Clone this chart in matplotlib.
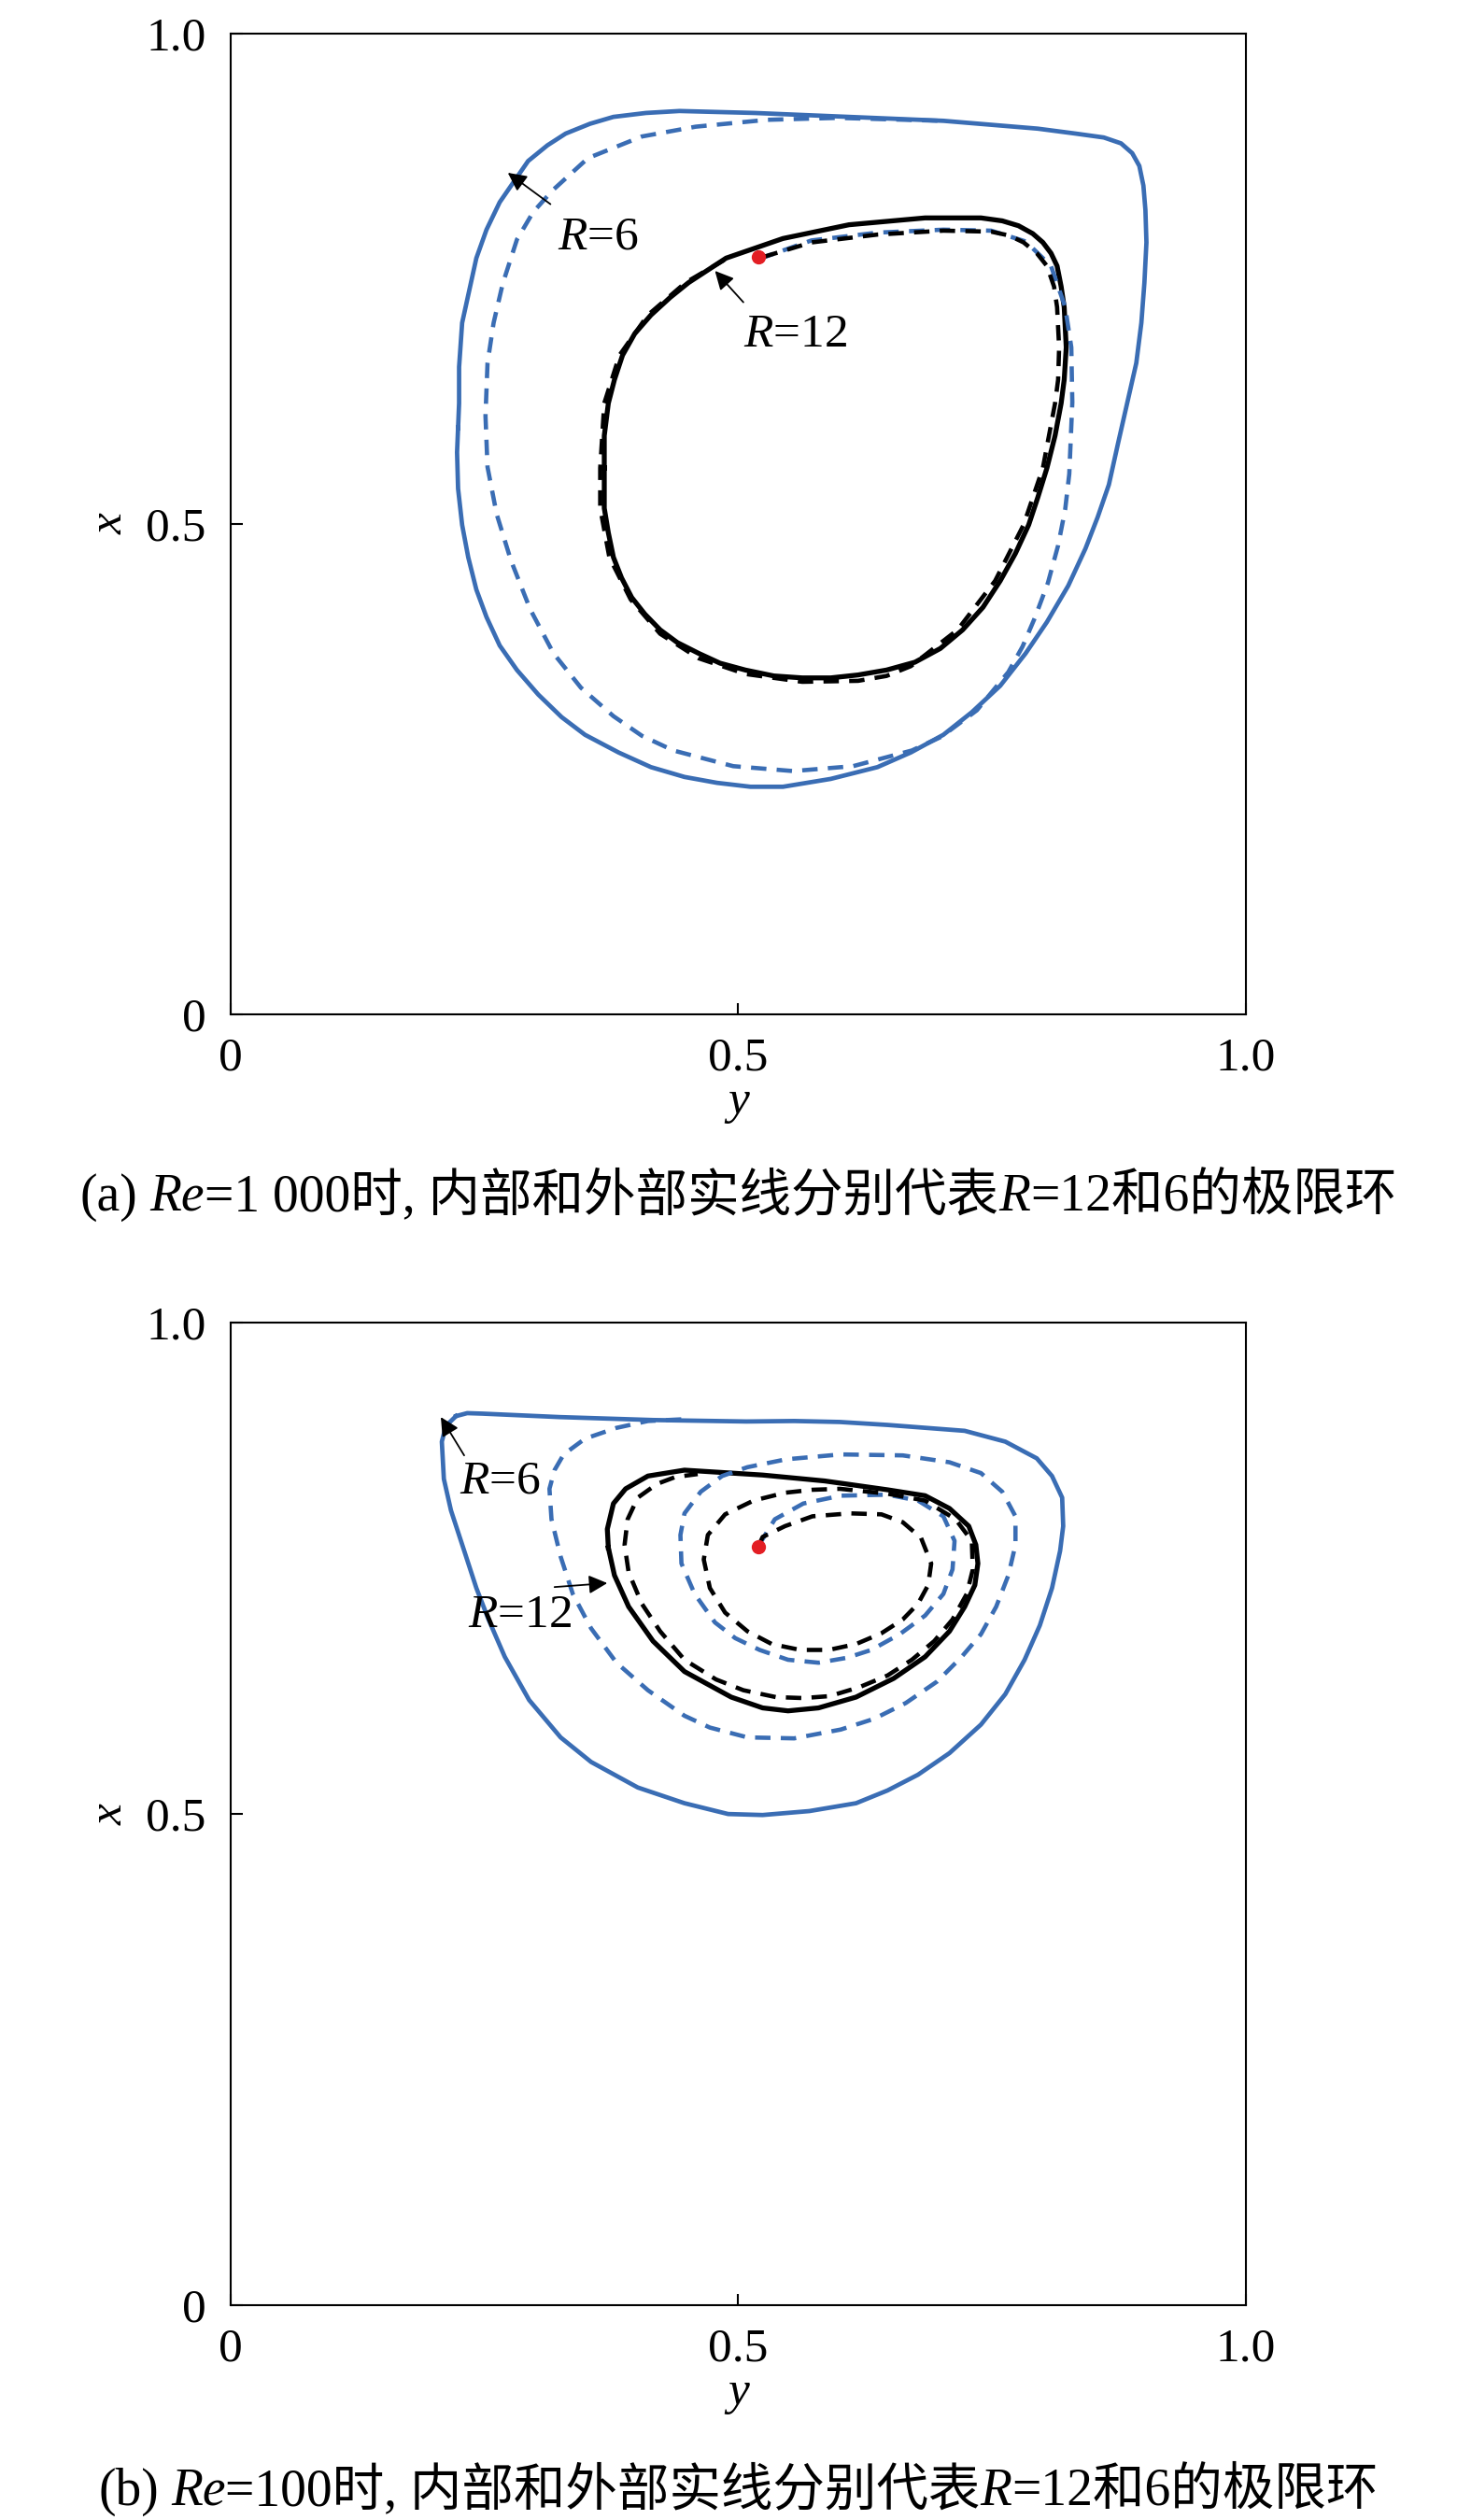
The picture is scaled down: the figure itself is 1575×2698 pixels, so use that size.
import numpy as np
import matplotlib.pyplot as plt

plt.rcParams['font.family'] = ['Liberation Serif', 'Noto Sans CJK SC']
plt.rcParams['mathtext.fontset'] = 'custom'
plt.rcParams['mathtext.it'] = 'Liberation Serif:italic'
plt.rcParams['mathtext.rm'] = 'Liberation Serif'

BLUE = '#3a6db4'
RED = '#e31e24'
FS = 37
CAP_FS = 40
DASH = (0, (3.6, 2.4))

# ---- (a) Re=1000 ----
# horizontal axis is y, vertical axis is x
blue_solid_a_y = [0.224, 0.225, 0.225, 0.228, 0.235, 0.242, 0.252, 0.265, 0.279, 0.293,
                  0.312, 0.330, 0.354, 0.377, 0.409, 0.442, 0.516, 0.609, 0.702, 0.795,
                  0.832, 0.860, 0.877, 0.888, 0.895, 0.899, 0.901, 0.902, 0.900, 0.897,
                  0.892, 0.883, 0.874, 0.865, 0.854, 0.842, 0.825, 0.804, 0.783, 0.758,
                  0.730, 0.702, 0.670, 0.637, 0.591, 0.544, 0.512, 0.479, 0.447, 0.414,
                  0.382, 0.349, 0.326, 0.303, 0.282, 0.265, 0.252, 0.242, 0.234, 0.228,
                  0.224, 0.223]
blue_solid_a_x = [0.598, 0.623, 0.660, 0.705, 0.738, 0.771, 0.800, 0.828, 0.849, 0.870,
                  0.886, 0.898, 0.908, 0.915, 0.919, 0.921, 0.919, 0.915, 0.911, 0.903,
                  0.898, 0.894, 0.888, 0.878, 0.865, 0.845, 0.820, 0.787, 0.746, 0.705,
                  0.664, 0.623, 0.582, 0.540, 0.507, 0.475, 0.437, 0.400, 0.368, 0.335,
                  0.308, 0.285, 0.267, 0.252, 0.240, 0.232, 0.232, 0.236, 0.242, 0.252,
                  0.267, 0.285, 0.303, 0.326, 0.351, 0.376, 0.405, 0.433, 0.466, 0.499,
                  0.536, 0.573]

blue_dash_a_y = [0.520, 0.572, 0.637, 0.702, 0.749, 0.783, 0.808, 0.822, 0.828, 0.829,
                 0.826, 0.822, 0.815, 0.805, 0.792, 0.780, 0.766, 0.735, 0.700, 0.671,
                 0.613, 0.554, 0.495, 0.436, 0.405, 0.377, 0.345, 0.318, 0.295, 0.276,
                 0.262, 0.253, 0.251, 0.253, 0.259, 0.268, 0.282, 0.298, 0.317, 0.352,
                 0.405, 0.458, 0.528, 0.598, 0.700]
blue_dash_a_x = [0.770, 0.789, 0.797, 0.800, 0.799, 0.788, 0.763, 0.721, 0.680, 0.624,
                 0.551, 0.515, 0.478, 0.440, 0.404, 0.375, 0.349, 0.310, 0.283, 0.269,
                 0.253, 0.248, 0.253, 0.269, 0.284, 0.304, 0.333, 0.368, 0.413, 0.463,
                 0.510, 0.558, 0.610, 0.664, 0.705, 0.745, 0.790, 0.818, 0.840, 0.873,
                 0.895, 0.905, 0.912, 0.914, 0.911]

black_solid_a_y = [0.368, 0.368, 0.372, 0.378, 0.386, 0.398, 0.414, 0.433, 0.451, 0.488,
                   0.544, 0.609, 0.684, 0.739, 0.760, 0.776, 0.790, 0.800, 0.808, 0.814,
                   0.818, 0.821, 0.823, 0.821, 0.818, 0.812, 0.804, 0.795, 0.786, 0.773,
                   0.758, 0.741, 0.721, 0.699, 0.674, 0.646, 0.618, 0.591, 0.563, 0.535,
                   0.507, 0.482, 0.461, 0.440, 0.423, 0.408, 0.395, 0.385, 0.377, 0.372,
                   0.368, 0.368]
black_solid_a_x = [0.557, 0.590, 0.623, 0.647, 0.672, 0.694, 0.713, 0.731, 0.746, 0.771,
                   0.791, 0.805, 0.812, 0.812, 0.809, 0.804, 0.796, 0.787, 0.776, 0.763,
                   0.742, 0.721, 0.680, 0.647, 0.623, 0.590, 0.557, 0.527, 0.499, 0.470,
                   0.442, 0.415, 0.392, 0.373, 0.359, 0.351, 0.346, 0.343, 0.343, 0.345,
                   0.351, 0.358, 0.368, 0.379, 0.392, 0.408, 0.425, 0.445, 0.466, 0.491,
                   0.516, 0.536]

black_dash_a_y = [0.524, 0.572, 0.637, 0.702, 0.749, 0.767, 0.781, 0.794, 0.804, 0.811,
                  0.814, 0.816, 0.815, 0.812, 0.800, 0.781, 0.753, 0.716, 0.670, 0.646,
                  0.618, 0.563, 0.507, 0.461, 0.423, 0.394, 0.373, 0.364, 0.364, 0.368,
                  0.383, 0.411, 0.448, 0.486]
black_dash_a_x = [0.772, 0.787, 0.795, 0.799, 0.798, 0.794, 0.787, 0.776, 0.763, 0.742,
                  0.721, 0.680, 0.647, 0.623, 0.557, 0.499, 0.442, 0.392, 0.355, 0.345,
                  0.340, 0.339, 0.347, 0.363, 0.388, 0.423, 0.466, 0.516, 0.557, 0.623,
                  0.672, 0.713, 0.746, 0.769]

# ---- (b) Re=100 ----
blue_solid_b_y = [0.222, 0.233, 0.248, 0.324, 0.416, 0.508, 0.555, 0.600, 0.647, 0.723,
                  0.763, 0.794, 0.809, 0.819, 0.820, 0.817, 0.809, 0.797, 0.782, 0.763,
                  0.739, 0.708, 0.677, 0.647, 0.616, 0.570, 0.524, 0.490, 0.447, 0.401,
                  0.355, 0.325, 0.294, 0.270, 0.254, 0.242, 0.230, 0.217, 0.210, 0.208,
                  0.212]
blue_solid_b_x = [0.905, 0.908, 0.9075, 0.904, 0.901, 0.8995, 0.900, 0.899, 0.896, 0.890,
                  0.879, 0.862, 0.844, 0.822, 0.793, 0.768, 0.730, 0.692, 0.657, 0.622,
                  0.591, 0.562, 0.540, 0.524, 0.511, 0.503, 0.499, 0.500, 0.511, 0.527,
                  0.553, 0.578, 0.616, 0.660, 0.698, 0.730, 0.768, 0.809, 0.841, 0.879,
                  0.895]

blue_dash_b_y = [0.520, 0.527, 0.536, 0.564, 0.601, 0.647, 0.677, 0.702, 0.713, 0.711,
                 0.702, 0.684, 0.659, 0.631, 0.607, 0.579, 0.549, 0.521, 0.497, 0.477,
                 0.457, 0.444, 0.443, 0.447, 0.463, 0.484, 0.509, 0.547, 0.601, 0.662,
                 0.708, 0.739, 0.760, 0.773, 0.773, 0.766, 0.754, 0.739, 0.720, 0.696,
                 0.665, 0.634, 0.601, 0.555, 0.509, 0.472, 0.447, 0.411, 0.380, 0.355,
                 0.337, 0.325, 0.316, 0.314, 0.319, 0.328, 0.349, 0.380, 0.411, 0.450]
blue_dash_b_x = [0.773, 0.785, 0.800, 0.816, 0.824, 0.825, 0.819, 0.803, 0.778, 0.749,
                 0.724, 0.702, 0.683, 0.667, 0.659, 0.654, 0.657, 0.667, 0.679, 0.695,
                 0.724, 0.755, 0.784, 0.806, 0.828, 0.844, 0.853, 0.861, 0.866, 0.865,
                 0.858, 0.847, 0.828, 0.803, 0.774, 0.743, 0.711, 0.683, 0.660, 0.635,
                 0.613, 0.597, 0.586, 0.577, 0.578, 0.588, 0.600, 0.626, 0.654, 0.689,
                 0.724, 0.762, 0.800, 0.831, 0.850, 0.866, 0.882, 0.893, 0.900, 0.902]

black_solid_b_y = [0.372, 0.371, 0.377, 0.389, 0.411, 0.447, 0.478, 0.524, 0.585, 0.647,
                   0.684, 0.708, 0.727, 0.734, 0.736, 0.733, 0.723, 0.708, 0.684, 0.653,
                   0.616, 0.579, 0.549, 0.524, 0.493, 0.447, 0.416, 0.392, 0.378]
black_solid_b_x = [0.771, 0.790, 0.816, 0.831, 0.844, 0.850, 0.848, 0.845, 0.839, 0.830,
                   0.824, 0.811, 0.793, 0.774, 0.755, 0.733, 0.711, 0.686, 0.660, 0.638,
                   0.619, 0.608, 0.605, 0.608, 0.619, 0.645, 0.676, 0.711, 0.743]

black_dash_b_y = [0.520, 0.524, 0.546, 0.573, 0.610, 0.641, 0.662, 0.680, 0.690, 0.687,
                  0.677, 0.662, 0.641, 0.616, 0.589, 0.561, 0.533, 0.509, 0.487, 0.472,
                  0.466, 0.470, 0.487, 0.515, 0.546, 0.573, 0.600, 0.647, 0.684, 0.714,
                  0.730, 0.731, 0.725, 0.711, 0.693, 0.671, 0.647, 0.619, 0.590, 0.564,
                  0.537, 0.505, 0.478, 0.447, 0.423, 0.405, 0.392, 0.388, 0.391, 0.401,
                  0.420, 0.438, 0.460]
black_dash_b_x = [0.773, 0.782, 0.793, 0.803, 0.806, 0.805, 0.797, 0.781, 0.755, 0.733,
                  0.714, 0.698, 0.684, 0.673, 0.667, 0.667, 0.673, 0.686, 0.705, 0.730,
                  0.759, 0.784, 0.805, 0.819, 0.827, 0.830, 0.831, 0.826, 0.819, 0.800,
                  0.778, 0.749, 0.724, 0.698, 0.676, 0.657, 0.641, 0.629, 0.620, 0.618,
                  0.619, 0.626, 0.637, 0.657, 0.686, 0.714, 0.746, 0.774, 0.800, 0.822,
                  0.836, 0.843, 0.846]

center_pt = (0.52, 0.772)

ticks = [0, 0.5, 1.0]
tick_labels = ['0', '0.5', '1.0']

fig = plt.figure(figsize=(15.75, 26.98), dpi=100)
ax_a = fig.add_axes([0.1568, 0.5975, 0.6902, 0.3892])
ax_b = fig.add_axes([0.1568, 0.0852, 0.6902, 0.3899])


def style_axes(ax):
    ax.set_xlim(0, 1)
    ax.set_ylim(0, 1)
    ax.set_xticks(ticks)
    ax.set_xticklabels(tick_labels)
    ax.set_yticks(ticks)
    ax.set_yticklabels(tick_labels)
    ax.tick_params(direction='in', length=9, width=1.5, labelsize=FS)
    ax.tick_params(axis='x', pad=17)
    ax.tick_params(axis='y', pad=19)
    for s in ax.spines.values():
        s.set_linewidth(1.5)
    ax.set_xlabel('y', style='italic', fontsize=FS)
    ax.xaxis.set_label_coords(0.5, -0.101)
    ax.xaxis.label.set_va('baseline')
    ax.set_ylabel('x', style='italic', fontsize=FS)
    ax.yaxis.set_label_coords(-0.118, 0.5)
    ax.yaxis.label.set_va('center')


def closed(a):
    return np.append(a, a[0])


def draw_loops(ax, bs, bd, ks, kd):
    ax.plot(closed(bs[0]), closed(bs[1]), color=BLUE, lw=3.4, zorder=2,
            solid_joinstyle='round')
    ax.plot(closed(ks[0]), closed(ks[1]), color='black', lw=3.8, zorder=2,
            solid_joinstyle='round')
    ax.plot(bd[0], bd[1], color=BLUE, lw=3.3, ls=DASH, zorder=3)
    ax.plot(kd[0], kd[1], color='black', lw=3.3, ls=DASH, zorder=3)
    ax.plot(*center_pt, 'o', color=RED, ms=10, zorder=5)


def arrow(ax, tip, tail):
    ax.annotate('', xy=tip, xytext=tail,
                arrowprops=dict(arrowstyle='-|>', color='black', lw=1.3,
                                mutation_scale=30, shrinkA=0, shrinkB=0))


style_axes(ax_a)
draw_loops(ax_a, (blue_solid_a_y, blue_solid_a_x), (blue_dash_a_y, blue_dash_a_x),
           (black_solid_a_y, black_solid_a_x), (black_dash_a_y, black_dash_a_x))
arrow(ax_a, (0.273, 0.858), (0.315, 0.826))
arrow(ax_a, (0.477, 0.758), (0.505, 0.726))
ax_a.text(0.362, 0.792, '$R$=6', fontsize=FS, ha='center', va='center')
ax_a.text(0.556, 0.693, '$R$=12', fontsize=FS, ha='center', va='center')

style_axes(ax_b)
draw_loops(ax_b, (blue_solid_b_y, blue_solid_b_x), (blue_dash_b_y, blue_dash_b_x),
           (black_solid_b_y, black_solid_b_x), (black_dash_b_y, black_dash_b_x))
arrow(ax_b, (0.207, 0.904), (0.230, 0.865))
arrow(ax_b, (0.371, 0.735), (0.319, 0.731))
ax_b.text(0.265, 0.838, '$R$=6', fontsize=FS, ha='center', va='center')
ax_b.text(0.285, 0.702, '$R$=12', fontsize=FS, ha='center', va='center')

# captions built from runs so that Re and R can be italic
W, H = 1575, 2698
renderer = fig.canvas.get_renderer()


def caption(y_px, parts, cx=790.5):
    items = []
    for s, st, gap in parts:
        t = fig.text(0, 1 - y_px / H, s, fontsize=CAP_FS, style=st, va='baseline')
        items.append((t, gap))
    widths = [t.get_window_extent(renderer).width for t, _ in items]
    total = sum(widths) + sum(g for _, g in items)
    x = cx - total / 2
    for (t, gap), w in zip(items, widths):
        t.set_x(x / W)
        x += w + gap


caption(1296, [('(a)', 'normal', 13), ('Re', 'italic', 0),
               ('=1 000时, 内部和外部实线分别代表', 'normal', 0),
               ('R', 'italic', 0), ('=12和6的极限环', 'normal', 0)])
caption(2682, [('(b)', 'normal', 13), ('Re', 'italic', 0),
               ('=100时, 内部和外部实线分别代表', 'normal', 0),
               ('R', 'italic', 0), ('=12和6的极限环', 'normal', 0)])

fig.savefig('out.png', dpi=100)
